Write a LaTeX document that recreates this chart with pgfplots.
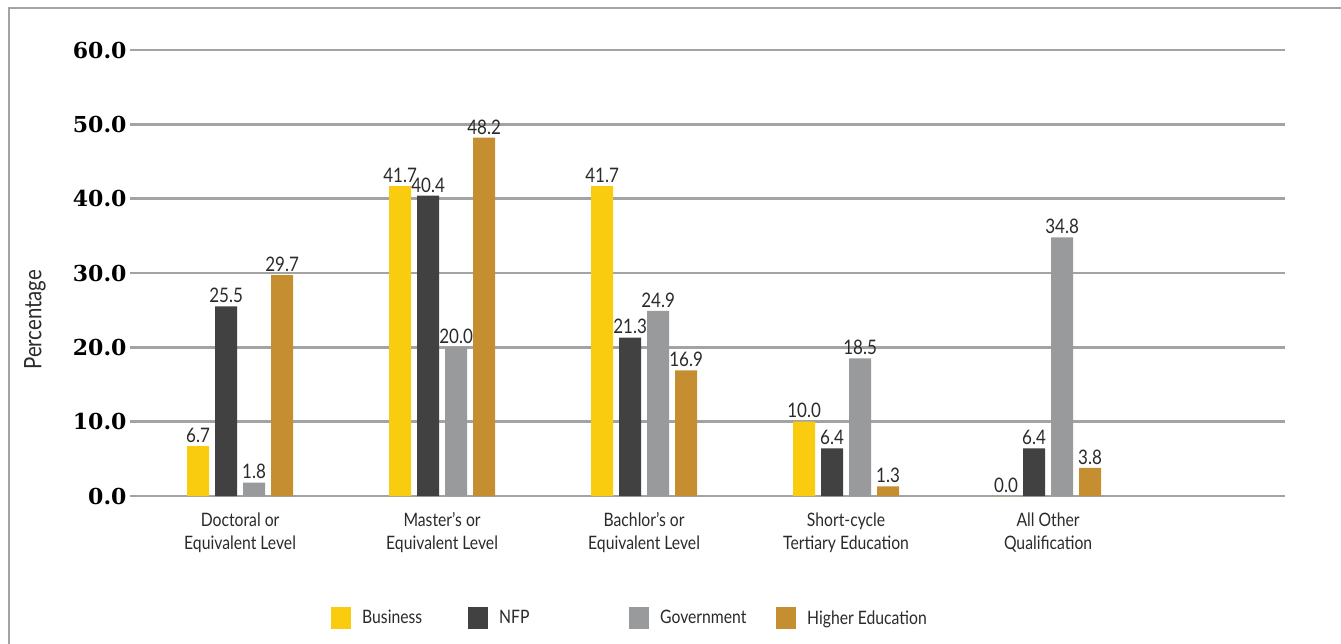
\documentclass[border=0pt]{standalone}
\usepackage{pgfplots}
\pgfplotsset{compat=1.18}
\usepackage{fontspec}
\setmainfont{Lato}[FakeStretch=0.85]
\newfontfamily\tickfont{DejaVu Serif}
\definecolor{cbus}{HTML}{FACC10}
\definecolor{cnfp}{HTML}{414141}
\definecolor{cgov}{HTML}{999A9C}
\definecolor{che}{HTML}{C58E31}
\definecolor{gridc}{HTML}{A3A3A3}
\definecolor{txt}{HTML}{2A2A2A}
\begin{document}
\begin{tikzpicture}
\useasboundingbox (-130pt,-147pt) rectangle (1211pt,496pt);
\begin{axis}[
  at={(0pt,0pt)}, anchor=south west,
  scale only axis, width=1155pt, height=446pt,
  xmin=-0.545, xmax=5.173, ymin=0, ymax=60,
  axis line style={draw=none},
  major tick length=0pt,
  ymajorgrids, grid style={gridc, line width=2.6pt},
  ytick={0,10,...,60},
  yticklabel style={font=\tickfont\bfseries\fontsize{22}{22}\selectfont, text=black,
    /pgf/number format/.cd, fixed, fixed zerofill, precision=1, assume math mode=true},
  xtick={0,1,2,3,4},
  xticklabels={{Doctoral or\\Equivalent Level},{Master's or\\Equivalent Level},{Bachlor's or\\Equivalent Level},{Short-cycle\\Tertiary Education},{All Other\\Qualification}},
  xticklabel style={align=center, font=\fontsize{18.5}{23}\selectfont, text=txt, yshift=-13pt},
  ylabel={Percentage},
  ylabel style={at={(axis description cs:-0.0823,0.395)}, anchor=center, font=\fontsize{24}{24}\selectfont, text=txt},
  ybar=6pt, bar width=22pt,
  nodes near coords,
  nodes near coords style={font=\fontsize{20}{20}\selectfont, text=txt,
    /pgf/number format/.cd, fixed, fixed zerofill, precision=1, assume math mode=true},
  clip=false,
  legend columns=4,
  legend style={at={(0.174,-0.2735)}, anchor=west, draw=none, inner sep=0pt,
    font=\fontsize{18.5}{18.5}\selectfont, text=txt,
    nodes={inner sep=0pt},
    /tikz/every odd column/.append style={column sep=11pt}},
  legend image code/.code={\fill[#1] (0pt,-11pt) rectangle (20pt,11pt);},
]
\addplot[fill=cbus, draw=none] coordinates {(0,6.7) (1,41.7) (2,41.7) (3,10.0) (4,0.0)};
\addlegendentry{\makebox[106pt][l]{Business}}
\addplot[fill=cnfp, draw=none] coordinates {(0,25.5) (1,40.4) (2,21.3) (3,6.4) (4,6.4)};
\addlegendentry{\makebox[130pt][l]{NFP}}
\addplot[fill=cgov, draw=none] coordinates {(0,1.8) (1,20.0) (2,24.9) (3,18.5) (4,34.8)};
\addlegendentry{\makebox[116pt][l]{Government}}
\addplot[fill=che, draw=none] coordinates {(0,29.7) (1,48.2) (2,16.9) (3,1.3) (4,3.8)};
\addlegendentry{Higher Education}
\end{axis}
\draw[gridc, line width=2.6pt] (-121pt,-150pt) -- (-121pt,488pt) -- (1215pt,488pt);
\end{tikzpicture}
\end{document}
